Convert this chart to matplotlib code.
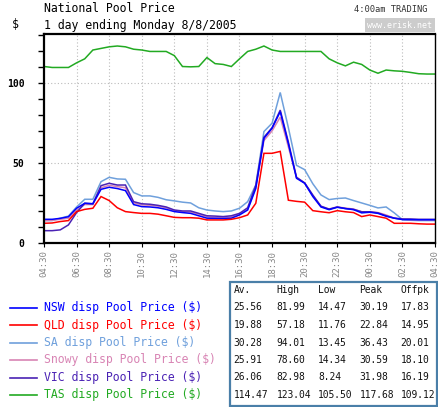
import matplotlib
matplotlib.use("Agg")
import matplotlib.pyplot as plt
import numpy as np

tick_labels = ["04:30", "06:30", "08:30", "10:30", "12:30", "14:30", "16:30",
               "18:30", "20:30", "22:30", "00:30", "02:30", "04:30"]

nsw = [14.8, 14.8, 15.4, 16.4, 21.7, 24.8, 24.5, 33.5, 34.8, 34.0, 32.7, 24.0, 22.7,
       22.5, 22.0, 21.0, 19.6, 19.0, 18.5, 17.0, 15.5, 15.4, 15.3, 15.5, 17.5, 20.6,
       34.0, 65.4, 71.7, 82.0, 62.0, 40.4, 37.3, 29.0, 22.5, 20.8, 22.3, 21.5, 20.8,
       18.8, 19.2, 18.5, 16.7, 15.5, 14.6, 14.6, 14.5, 14.5, 14.5]
qld = [12.3, 12.5, 13.4, 14.0, 19.6, 21.0, 21.7, 29.0, 26.5, 22.0, 19.6, 19.0, 18.5,
       18.5, 18.0, 17.0, 16.0, 15.8, 15.8, 15.5, 14.4, 14.4, 14.4, 14.8, 15.8, 17.5,
       24.8, 56.0, 56.0, 57.2, 26.7, 26.0, 25.5, 20.2, 19.5, 18.9, 20.2, 19.5, 19.0,
       16.5, 17.5, 16.5, 15.5, 12.3, 12.3, 12.3, 12.0, 11.8, 11.8]
sa = [14.0, 14.0, 15.5, 16.8, 22.5, 27.3, 27.3, 38.3, 41.0, 40.0, 39.8, 31.5, 29.4,
      29.4, 28.5, 27.0, 26.3, 25.5, 25.0, 22.0, 20.6, 20.0, 19.6, 20.0, 21.7, 25.8,
      36.2, 69.6, 74.8, 94.0, 72.0, 48.5, 45.8, 37.0, 30.0, 27.1, 27.8, 28.1, 26.5,
      25.0, 23.5, 21.9, 22.5, 18.8, 14.6, 14.2, 14.0, 14.0, 14.0]
snowy = [14.0, 14.2, 14.8, 15.5, 20.5, 24.0, 24.0, 34.5, 36.0, 35.2, 34.5, 25.0, 23.8,
         23.5, 23.0, 22.0, 20.0, 19.5, 19.3, 18.0, 16.3, 16.0, 15.8, 16.3, 18.0, 21.0,
         35.0, 64.0, 70.0, 78.6, 60.0, 41.0, 37.5, 29.5, 22.8, 21.0, 22.5, 21.8, 21.2,
         19.5, 19.5, 19.0, 17.5, 15.5, 14.8, 14.5, 14.4, 14.4, 14.4]
vic = [7.7, 7.7, 8.2, 11.3, 19.0, 24.8, 24.5, 35.8, 37.3, 36.2, 36.2, 25.8, 24.5,
       24.2, 23.5, 22.5, 20.6, 20.0, 20.0, 18.5, 17.0, 16.8, 16.5, 17.0, 18.5, 22.0,
       36.0, 66.0, 72.0, 83.0, 63.0, 41.0, 37.5, 30.0, 23.0, 21.2, 22.5, 21.5, 21.0,
       19.5, 19.5, 18.8, 17.0, 15.5, 15.0, 15.0, 14.8, 14.8, 14.8]
tas = [110.2, 109.6, 109.6, 109.6, 112.5, 115.0, 120.5, 121.5, 122.5, 123.0, 122.5,
       121.0, 120.5, 119.6, 119.6, 119.6, 117.0, 110.2, 110.0, 110.2, 115.8, 112.0,
       111.5, 110.2, 115.0, 119.6, 121.0, 123.0, 120.5, 119.6, 119.6, 119.6, 119.6,
       119.6, 119.6, 115.0, 112.5, 110.6, 112.9, 111.5, 108.0, 106.0, 108.0, 107.5,
       107.2, 106.5, 105.7, 105.5, 105.5]

series_names = ["NSW disp Pool Price ($)", "QLD disp Pool Price ($)",
                "SA disp Pool Price ($)", "Snowy disp Pool Price ($)",
                "VIC disp Pool Price ($)", "TAS disp Pool Price ($)"]
colors = ["#0000ff", "#ff0000", "#6fa0dc", "#d884b4", "#4a22b4", "#22aa22"]
series = [nsw, qld, sa, snowy, vic, tas]

table_header = ["Av.", "High", "Low", "Peak", "Offpk"]
table_rows = [["25.56", "81.99", "14.47", "30.19", "17.83"],
              ["19.88", "57.18", "11.76", "22.84", "14.95"],
              ["30.28", "94.01", "13.45", "36.43", "20.01"],
              ["25.91", "78.60", "14.34", "30.59", "18.10"],
              ["26.06", "82.98", "8.24", "31.98", "16.19"],
              ["114.47", "123.04", "105.50", "117.68", "109.12"]]

W, H = 438, 407
fig = plt.figure(figsize=(W / 100, H / 100), dpi=100)
mono = "DejaVu Sans Mono"

def fx(px):
    return px / W

def fy(py):
    return 1 - py / H

ax = fig.add_axes([fx(44), fy(243), fx(435) - fx(44), fy(34) - fy(243)])
x = np.arange(len(nsw))
draw_order = [5, 2, 3, 4, 0, 1]
for k in draw_order:
    ax.plot(x, series[k], color=colors[k], lw=1.1, solid_joinstyle="miter")

ax.set_xlim(0, 48)
ax.set_ylim(0, 130.5)
ax.set_xticks(np.arange(0, 49, 4))
ax.set_xticklabels(tick_labels, rotation=90, fontsize=6.5, color="#888888",
                   family=mono)
ax.set_yticks([0, 50, 100])
ax.set_yticklabels(["0", "50", "100"], fontsize=7, family=mono, fontweight="bold")
ax.set_yticks(np.arange(0, 131, 10), minor=True)
ax.tick_params(axis="y", which="both", length=4, width=1, direction="out", pad=10)
ax.tick_params(axis="x", length=3, width=0.8, direction="out", pad=2)
for v in [50, 100]:
    ax.axhline(v, color="#bbbbbb", lw=0.8, ls=(0, (1, 2)), zorder=0)
for t in np.arange(4, 48, 4):
    ax.axvline(t, color="#bbbbbb", lw=0.8, ls=(0, (1, 2)), zorder=0)
for s in ["left", "bottom", "top"]:
    ax.spines[s].set_linewidth(1.6)
ax.spines["right"].set_linewidth(1.0)

# titles
fig.text(fx(44), fy(9), "National Pool Price", fontsize=8.3, family=mono,
         va="center", ha="left")
fig.text(fx(44), fy(25), "1 day ending Monday 8/8/2005", fontsize=8.3, family=mono,
         va="center", ha="left")
fig.text(fx(12), fy(25), "$", fontsize=8.3, family=mono, va="center", ha="left")
fig.text(fx(428), fy(10), "4:00am TRADING", fontsize=6.3, family=mono,
         va="center", ha="right", color="#333333")
fig.text(fx(432), fy(25), "www.erisk.net", fontsize=6.0, family=mono,
         va="center", ha="right", color="white",
         bbox=dict(boxstyle="square,pad=0.3", fc="#cccccc", ec="none"))

# legend
row_y = [307.5, 325, 342.5, 360, 377.5, 394.5]
for k in range(6):
    fig.add_artist(plt.Line2D([fx(10), fx(37)], [fy(row_y[k]), fy(row_y[k])],
                              color=colors[k], lw=1.2))
    fig.text(fx(44), fy(row_y[k]), series_names[k], fontsize=8.3, family=mono,
             color=colors[k], va="center", ha="left")

# table
tb = plt.Rectangle((fx(230), fy(405.5)), fx(436.5) - fx(230), fy(282) - fy(405.5),
                   transform=fig.transFigure, fill=False, ec="#4a7fa8", lw=1.6)
fig.add_artist(tb)
col_x = [233.5, 276.5, 318, 359.5, 400.5]
for j, h in enumerate(table_header):
    fig.text(fx(col_x[j]), fy(290), h, fontsize=6.9, family=mono,
             va="center", ha="left", color="#111111")
for r, row in enumerate(table_rows):
    for j, val in enumerate(row):
        fig.text(fx(col_x[j]), fy(row_y[r]), val, fontsize=6.9, family=mono,
                 va="center", ha="left", color="#111111")

fig.savefig("out.png", dpi=100)
